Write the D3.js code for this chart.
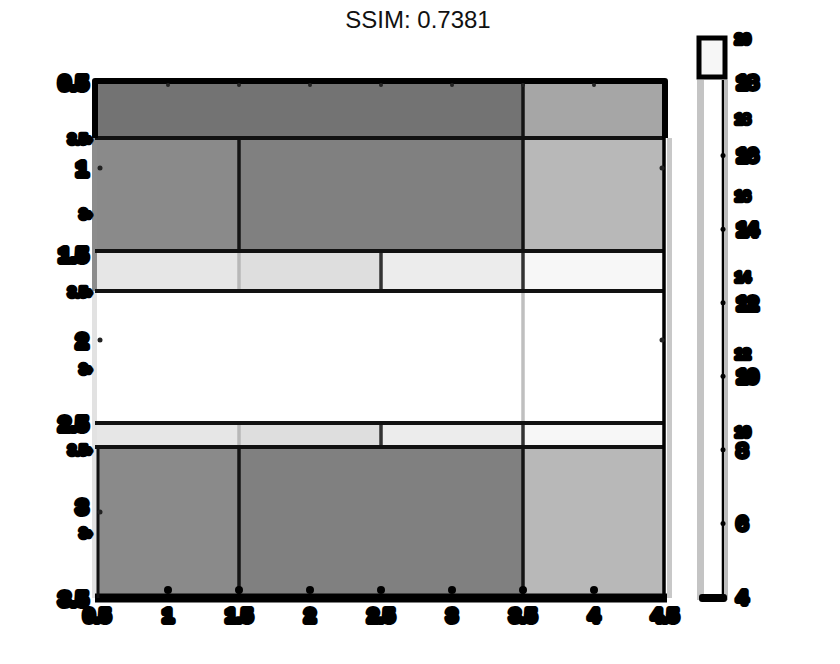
<!DOCTYPE html>
<html><head><meta charset="utf-8">
<script src="https://cdn.jsdelivr.net/npm/d3@7"></script>
<style>body{margin:0;background:#fff}svg{display:block}text{font-family:"Liberation Sans",Arial,sans-serif}</style>
</head><body>
<script>
// ---- data ----
const title = "SSIM: 0.7381";
const xTicks = [0.5, 1, 1.5, 2, 2.5, 3, 3.5, 4, 4.5];
const xTickLabels = ["0.5","1","1.5","2","2.5","3","3.5","4","4.5"];
const yTicks = [0.5, 1, 1.5, 2, 2.5, 3, 3.5];
const yTickLabels = ["0.5","1","1.5","2","2.5","3","3.5"];
const ghostYTicks = [0.83, 1.27, 1.72, 2.17, 2.64, 3.12];
const ghostYLabels = ["3.5","3","3.5","3","3.5","3"];
// cells: column span, row span, gray level (0 = black, 1 = white)
const cellX0 = [0.5,3.5, 0.5,1.5,3.5, 0.5,1.5,2.5,3.5, 0.5, 0.5,1.5,2.5,3.5, 0.5,1.5,3.5];
const cellX1 = [3.5,4.5, 1.5,3.5,4.5, 1.5,2.5,3.5,4.5, 4.5, 1.5,2.5,3.5,4.5, 1.5,3.5,4.5];
const cellY0 = [0.5,0.5, 0.826,0.826,0.826, 1.483,1.483,1.483,1.483, 1.715, 2.483,2.483,2.483,2.483, 2.622,2.622,2.622];
const cellY1 = [0.826,0.826, 1.483,1.483,1.483, 1.715,1.715,1.715,1.715, 2.483, 2.622,2.622,2.622,2.622, 3.5,3.5,3.5];
const cellValue = [0.45,0.65, 0.54,0.50,0.72, 0.90,0.87,0.925,0.97, 1.0, 0.90,0.87,0.925,0.97, 0.54,0.50,0.72];
// row boundary lines
const hLines = [0.826, 1.483, 1.715, 2.483, 2.622];
// vertical segments: x, y0, y1, gray
const vLineX = [1.5,1.5,1.5,1.5, 2.5,2.5, 3.5,3.5,3.5,3.5,3.5];
const vLineY0 = [0.826,1.483,2.483,2.622, 1.483,2.483, 0.5,1.483,1.715,2.483,2.622];
const vLineY1 = [1.483,1.715,2.622,3.5, 1.715,2.622, 1.483,1.715,2.483,2.622,3.5];
const vLineGray = [0.08,0.72,0.72,0.08, 0.2,0.2, 0.08,0.2,0.75,0.2,0.08];
// colorbar
const cbTicks = [18,16,14,12,10,8,6,4];
const cbGhostTicks = [17,14.9,12.7,10.6,8.5];
const cbGhostLabels = ["18","16","14","12","10"];
const cbDomain = [4, 18];

// ---- layout ----
const W = 840, H = 664;
const svg = d3.select("body").append("svg").attr("width", W).attr("height", H);
const x = d3.scaleLinear().domain([0.5, 4.5]).range([97, 665]);
const y = d3.scaleLinear().domain([0.5, 3.5]).range([82, 598]);
const gray = d3.scaleLinear().domain([0, 1]).range(["#000", "#fff"]);
const cb = d3.scaleLinear().domain(cbDomain).range([597, 82]);

svg.append("text").attr("x", 418).attr("y", 28).attr("text-anchor", "middle")
  .attr("font-size", 24).attr("fill", "#111").text(title);

// left gray shadow strip
svg.append("rect").attr("x", 92).attr("y", y(0.826)).attr("width", 6).attr("height", y(1.715)-y(0.826)).attr("fill", "#8c8c8c");
svg.append("rect").attr("x", 92).attr("y", y(1.715)).attr("width", 6).attr("height", y(3.5)-y(1.715)).attr("fill", "#e2e2e2");
svg.append("rect").attr("x", 97).attr("y", y(1.715)).attr("width", 2).attr("height", y(2.483)-y(1.715)).attr("fill", "#9a9a9a");
// right gray shadow
svg.append("rect").attr("x", x(4.5)+2).attr("y", y(0.826)).attr("width", 5).attr("height", y(3.5)-y(0.826)).attr("fill", "#c8c8c8");

const idx = d3.range(cellValue.length);
svg.append("g").selectAll("rect").data(idx).join("rect")
  .attr("x", i => x(cellX0[i])).attr("y", i => y(cellY0[i]))
  .attr("width", i => x(cellX1[i]) - x(cellX0[i]))
  .attr("height", i => y(cellY1[i]) - y(cellY0[i]))
  .attr("fill", i => gray(cellValue[i]));

// vertical separators
svg.append("g").selectAll("line").data(d3.range(vLineX.length)).join("line")
  .attr("x1", i => x(vLineX[i])).attr("x2", i => x(vLineX[i]))
  .attr("y1", i => y(vLineY0[i])).attr("y2", i => y(vLineY1[i]))
  .attr("stroke", i => gray(vLineGray[i])).attr("stroke-width", 3.5);

// horizontal separators
svg.append("g").selectAll("line").data(hLines).join("line")
  .attr("x1", x(0.5) - 2).attr("x2", x(4.5) - 1)
  .attr("y1", d => y(d)).attr("y2", d => y(d))
  .attr("stroke", "#111").attr("stroke-width", 4);

// outer frame
svg.append("path")
  .attr("d", `M${x(0.5)-2},${y(0.826)} V${y(0.5)-1} H${x(4.5)} V${y(0.826)}`)
  .attr("fill", "none").attr("stroke", "#000").attr("stroke-width", 6).attr("stroke-linejoin", "round");
svg.append("line").attr("x1", x(4.5)-1).attr("x2", x(4.5)-1).attr("y1", y(0.826)).attr("y2", y(3.5))
  .attr("stroke", "#000").attr("stroke-width", 3.5);
svg.append("line").attr("x1", x(0.5)-2).attr("x2", x(4.5)+2).attr("y1", y(3.5)).attr("y2", y(3.5))
  .attr("stroke", "#000").attr("stroke-width", 9);
svg.append("line").attr("x1", x(0.5)+1).attr("x2", x(0.5)+1).attr("y1", y(2.622)).attr("y2", y(3.5))
  .attr("stroke", "#111").attr("stroke-width", 3);

// tick dots
const dotX = xTicks.slice(1, -1);
svg.append("g").selectAll("circle").data(dotX).join("circle")
  .attr("cx", d => x(d)).attr("cy", y(0.5)+3).attr("r", 2).attr("fill", "#222");
svg.append("g").selectAll("circle").data(dotX).join("circle")
  .attr("cx", d => x(d)).attr("cy", y(3.5)-8).attr("r", 4).attr("fill", "#000");
svg.append("g").selectAll("circle").data([1, 2, 3]).join("circle")
  .attr("cx", x(0.5)+3).attr("cy", d => y(d)).attr("r", 2.5).attr("fill", "#222");
svg.append("g").selectAll("circle").data([1, 2]).join("circle")
  .attr("cx", x(4.5)-3).attr("cy", d => y(d)).attr("r", 2.5).attr("fill", "#222");

// blob-style labels
function blob(sel, size, sw) {
  sel.attr("font-size", size).attr("font-weight", "bold").attr("fill", "#000")
    .attr("stroke", "#000").attr("stroke-width", sw).attr("stroke-linejoin", "round");
}
svg.append("g").selectAll("text").data(d3.range(yTicks.length)).join("text")
  .attr("x", 88).attr("y", i => y(yTicks[i]) - (i === 4 ? 3 : 0) - (i === 5 ? 6 : 0)).attr("dy", "0.36em").attr("text-anchor", "end")
  .text(i => yTickLabels[i]).call(blob, 21, 6);
svg.append("g").selectAll("text").data(d3.range(ghostYTicks.length)).join("text")
  .attr("x", 92).attr("y", i => y(ghostYTicks[i])).attr("dy", "0.36em").attr("text-anchor", "end")
  .text(i => ghostYLabels[i] + "›").call(blob, 14, 4.5);
svg.append("g").selectAll("text").data(d3.range(xTicks.length)).join("text")
  .attr("x", i => x(xTicks[i])).attr("y", 622).attr("text-anchor", "middle")
  .text(i => xTickLabels[i]).call(blob, 19, 6);

// colorbar
const cbX = 697, cbW = 32;
svg.append("rect").attr("x", cbX).attr("y", 38).attr("width", cbW).attr("height", 565).attr("fill", "#fff");
svg.append("rect").attr("x", cbX).attr("y", 80).attr("width", 7).attr("height", 520).attr("fill", "#c4c4c4");
svg.append("rect").attr("x", cbX+24).attr("y", 80).attr("width", 7).attr("height", 520).attr("fill", "#bdbdbd");
svg.append("line").attr("x1", cbX+26).attr("x2", cbX+26).attr("y1", 80).attr("y2", 600).attr("stroke", "#000").attr("stroke-width", 2);
svg.append("rect").attr("x", cbX+2).attr("y", 38).attr("width", cbW-6).attr("height", 39)
  .attr("fill", "#f6f6f6").attr("stroke", "#000").attr("stroke-width", 5);
svg.append("rect").attr("x", cbX+2).attr("y", 594).attr("width", cbW-4).attr("height", 8).attr("rx", 3).attr("fill", "#000");
svg.append("g").selectAll("circle").data(cbTicks.slice(1, -1)).join("circle")
  .attr("cx", cbX+26).attr("cy", d => cb(d)).attr("r", 2.5).attr("fill", "#000");
svg.append("g").selectAll("text").data(cbTicks).join("text")
  .attr("x", 737).attr("y", d => cb(d)).attr("dy", "0.36em").text(d => d).call(blob, 19, 6);
svg.append("g").selectAll("text").data(d3.range(cbGhostTicks.length)).join("text")
  .attr("x", 735).attr("y", i => cb(cbGhostTicks[i])).attr("dy", "0.36em").text(i => cbGhostLabels[i]).call(blob, 14, 4.5);
svg.append("text").attr("x", 735).attr("y", 40).attr("dy", "0.3em").text("20").call(blob, 14, 4.5);
</script>
</body></html>
